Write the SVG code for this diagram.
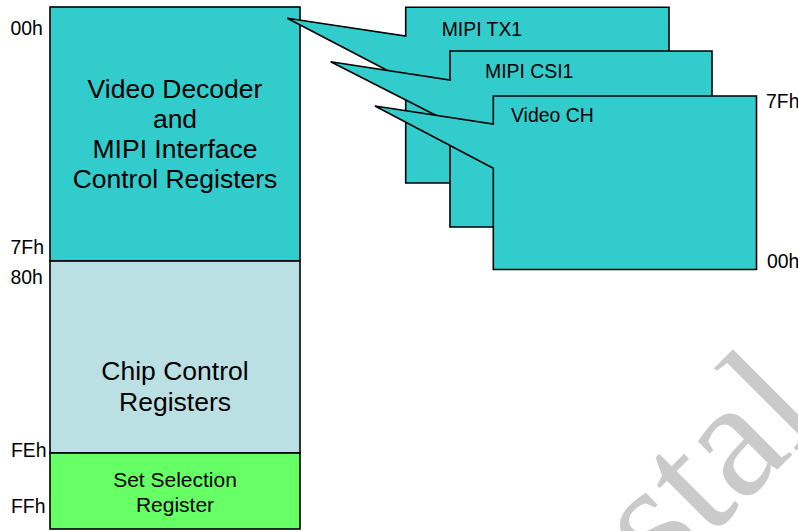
<svg xmlns="http://www.w3.org/2000/svg" width="798" height="531" viewBox="0 0 798 531">
<style>
  .box { stroke: #000; stroke-width: 1.6; }
  .teal { fill: #33CCCC; }
  .light { fill: #BBE0E3; }
  .green { fill: #66FF66; }
  .lbl { font-family: "Liberation Sans", Arial, sans-serif; font-size: 19.4px; fill: #000; }
  .big { font-family: "Liberation Sans", Arial, sans-serif; font-size: 26.5px; fill: #000; text-anchor: middle; }
  .mid { font-family: "Liberation Sans", Arial, sans-serif; font-size: 21px; fill: #000; text-anchor: middle; }
  .wm { font-family: "Liberation Serif", "Times New Roman", serif; font-size: 168px; fill: #CACACA; }
</style>
<rect width="798" height="531" fill="#fff"/>
<text class="wm" transform="translate(662,585) rotate(-45)">stal</text>
<g id="video-decoder">
  <rect class="box teal" x="50" y="7" width="250" height="254"/>
  <text class="big" x="175" y="97.5">Video Decoder</text>
  <text class="big" x="175" y="127.8">and</text>
  <text class="big" x="175" y="158.1">MIPI Interface</text>
  <text class="big" x="175" y="188.4">Control Registers</text>
</g>
<g id="chip-control">
  <rect class="box light" x="50" y="261" width="250" height="192"/>
  <text class="big" x="175" y="379.5">Chip Control</text>
  <text class="big" x="175" y="410.5">Registers</text>
</g>
<g id="set-selection">
  <rect class="box green" x="50" y="453" width="250" height="76"/>
  <text class="mid" x="175" y="487.3">Set Selection</text>
  <text class="mid" x="175" y="511.7">Register</text>
</g>
<g id="addr-labels">
  <text class="lbl" x="10.5" y="35">00h</text>
  <text class="lbl" x="10.5" y="254">7Fh</text>
  <text class="lbl" x="10.5" y="283.5">80h</text>
  <text class="lbl" x="11" y="457">FEh</text>
  <text class="lbl" x="11" y="513">FFh</text>
  <text class="lbl" x="766" y="108">7Fh</text>
  <text class="lbl" x="767" y="268">00h</text>
</g>
<g id="connectors">
  <g id="mipi-tx1">
    <path class="box teal" d="M287.3,18.3 L405.7,36 L405.7,7.3 L669,7.3 L669,183 L405.7,183 L405.7,80 Z"/>
    <text class="lbl" x="441.7" y="36">MIPI TX1</text>
  </g>
  <g id="mipi-csi1">
    <path class="box teal" d="M330.7,61.7 L450,80 L450,51 L712,51 L712,227 L450,227 L450,122.6 Z"/>
    <text class="lbl" x="485" y="78.3">MIPI CSI1</text>
  </g>
  <g id="video-ch">
    <path class="box teal" d="M375,106 L493.3,124 L493.3,96 L756.5,96 L756.5,269.5 L493.3,269.5 L493.3,168.3 Z"/>
    <text class="lbl" x="511" y="122.3">Video CH</text>
  </g>
</g>
</svg>
